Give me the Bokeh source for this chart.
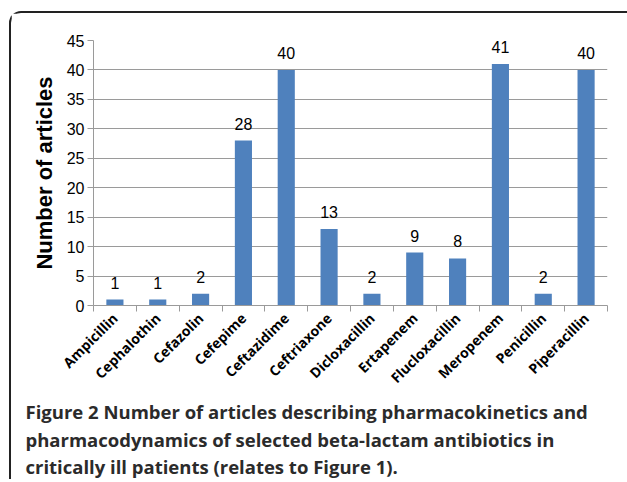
from bokeh.plotting import figure
from bokeh.layouts import column
from bokeh.models import ColumnDataSource, LabelSet, Title, FixedTicker
from bokeh.core.properties import value
from bokeh.embed import file_html
from bokeh.resources import INLINE
import math

drugs = ["Ampicillin", "Cephalothin", "Cefazolin", "Cefepime", "Ceftazidime", "Ceftriaxone",
         "Dicloxacillin", "Ertapenem", "Flucloxacillin", "Meropenem", "Penicillin", "Piperacillin"]
articles = [1, 1, 2, 28, 40, 13, 2, 9, 8, 41, 2, 40]
y_ticks = [0, 5, 10, 15, 20, 25, 30, 35, 40, 45]
caption_lines = [
    "Figure 2 Number of articles describing pharmacokinetics and",
    "pharmacodynamics of selected beta-lactam antibiotics in",
    "critically ill patients (relates to Figure 1).",
]

xpos = [i + 0.5 for i in range(len(drugs))]
src = ColumnDataSource(dict(x=xpos, y=articles, lab=[str(v) for v in articles]))

W, H = 616, 466
p = figure(width=W, height=H, output_backend="svg", toolbar_location=None,
           x_range=(0, len(drugs)), y_range=(0, 45),
           min_border_left=82, min_border_right=20, min_border_top=27, min_border_bottom=174)
p.outline_line_color = None

p.vbar(x="x", top="y", width=0.4, source=src, fill_color="#4F81BD", line_color=None)

labels = LabelSet(x="x", y="y", text="lab", source=src, text_align="center",
                  text_baseline="alphabetic", y_offset=11, text_font=value("Liberation Sans"),
                  text_font_size="16px", text_color="black")
p.add_layout(labels)

# y axis
p.yaxis.ticker = FixedTicker(ticks=y_ticks)
p.yaxis.axis_label = "Number of articles"
p.yaxis.axis_label_text_font = "Liberation Sans"
p.yaxis.axis_label_text_font_style = "bold"
p.yaxis.axis_label_text_font_size = "22px"
p.yaxis.axis_label_text_color = "black"
p.yaxis.axis_label_standoff = 7
p.yaxis.major_label_text_font = "Liberation Sans"
p.yaxis.major_label_text_font_size = "16px"
p.yaxis.major_label_text_color = "black"
p.yaxis.axis_line_color = "#9a9a9a"
p.yaxis.major_tick_line_color = "#9a9a9a"
p.yaxis.major_tick_out = 6
p.yaxis.major_tick_in = 0
p.yaxis.minor_tick_line_color = None
p.yaxis.major_label_standoff = 3

# x axis: labels at category centres, ticks at boundaries
p.xaxis.ticker = FixedTicker(ticks=xpos, minor_ticks=list(range(len(drugs) + 1)))
p.xaxis.major_label_overrides = {x: d for x, d in zip(xpos, drugs)}
p.xaxis.major_label_orientation = math.pi / 4
p.xaxis.major_label_text_font = "Open Sans"
p.xaxis.major_label_text_font_style = "bold"
p.xaxis.major_label_text_font_size = "14px"
p.xaxis.major_label_text_color = "black"
p.xaxis.major_tick_line_color = None
p.xaxis.minor_tick_line_color = "#9a9a9a"
p.xaxis.minor_tick_out = 6
p.xaxis.minor_tick_in = 0
p.xaxis.axis_line_color = "#9a9a9a"
p.xaxis.major_label_standoff = 4

p.xgrid.grid_line_color = None
p.ygrid.grid_line_color = "#9a9a9a"
p.ygrid.ticker = FixedTicker(ticks=y_ticks)

# caption lines as titles below the axis
for i, line in enumerate(caption_lines):
    p.add_layout(Title(text=line, align="left", offset=-68, standoff=(1 if i == 0 else 0),
                       text_font="Open Sans", text_font_style="bold", text_font_size="18.5px",
                       text_color="#2b2b2b"), "below")

layout = column(p, spacing=0)
layout.styles = {"margin-left": "9px", "margin-top": "11px",
                 "border-left": "2px solid #222", "border-top": "2px solid #222",
                 "border-top-left-radius": "12px"}

open("out.html", "w").write(file_html(layout, INLINE))
